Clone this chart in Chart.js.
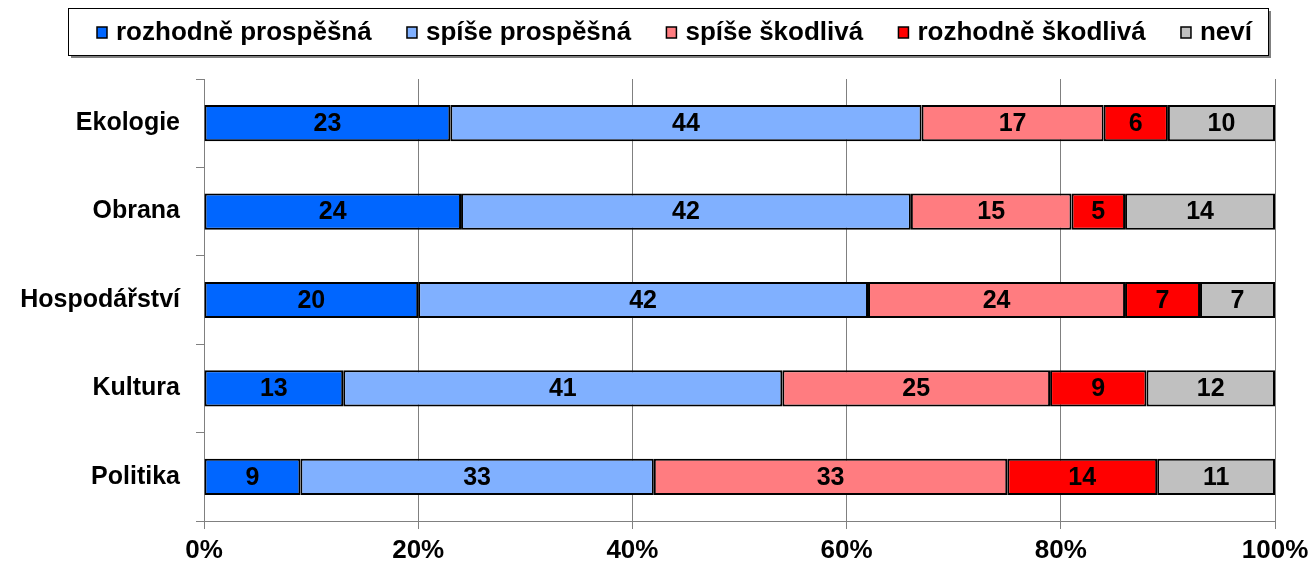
<!DOCTYPE html>
<html>
<head>
<meta charset="utf-8">
<script src="https://cdn.jsdelivr.net/npm/chart.js@4.4.0/dist/chart.umd.min.js"></script>
<style>
  html, body { margin: 0; padding: 0; background: #fff; }
</style>
</head>
<body>
<canvas id="graf" width="1309" height="562"></canvas>
<script>
// data (percent)
const kategorie = ['Ekologie', 'Obrana', 'Hospodářství', 'Kultura', 'Politika'];
const nazvy = ['rozhodně prospěšná', 'spíše prospěšná', 'spíše škodlivá', 'rozhodně škodlivá', 'neví'];
const rozhodneProspesna = [23, 24, 20, 13, 9];
const spiseProspesna = [44, 42, 42, 41, 33];
const spiseSkodliva = [17, 15, 24, 25, 33];
const rozhodneSkodliva = [6, 5, 7, 9, 14];
const nevi = [10, 14, 7, 12, 11];
const xTicks = [0, 20, 40, 60, 80, 100];

const barvy = ['#0066FF', '#80B0FF', '#FF7C80', '#FF0000', '#C0C0C0'];
const hodnoty = [rozhodneProspesna, spiseProspesna, spiseSkodliva, rozhodneSkodliva, nevi];

Chart.defaults.font.family = '"Liberation Sans", Arial, sans-serif';
Chart.defaults.color = '#000';

// numbers inside the bars
const popisky = {
  id: 'popisky',
  afterDatasetsDraw(chart) {
    let ctx = chart.ctx;
    ctx.save();
    ctx.font = 'bold 25px "Liberation Sans", Arial, sans-serif';
    ctx.fillStyle = '#000';
    ctx.textAlign = 'center';
    ctx.textBaseline = 'middle';
    chart.data.datasets.forEach((ds, i) => {
      chart.getDatasetMeta(i).data.forEach((bar, j) => {
        ctx.fillText(ds.data[j], (bar.x + bar.base) / 2, bar.y + 1);
      });
    });
    ctx.restore();
  }
};

// legend in a framed box on top
const legenda = {
  id: 'legenda',
  afterDraw(chart) {
    let ctx = chart.ctx;
    let bx = 68, by = 8, bw = 1200, bh = 47;
    ctx.save();
    ctx.fillStyle = '#808080';
    ctx.fillRect(bx + 3, by + 3, bw, bh);
    ctx.fillStyle = '#fff';
    ctx.fillRect(bx, by, bw, bh);
    ctx.strokeStyle = '#000';
    ctx.lineWidth = 1;
    ctx.strokeRect(bx + 0.5, by + 0.5, bw, bh);

    ctx.font = 'bold 26px "Liberation Sans", Arial, sans-serif';
    ctx.textBaseline = 'middle';
    let box = 10, mezera = 9;
    let sirky = chart.data.datasets.map(ds => box + mezera + ctx.measureText(ds.label).width);
    let celkem = sirky.reduce((a, b) => a + b, 0);
    let start = 97, konec = 1252;
    let gap = (konec - start - celkem) / (sirky.length - 1);
    let x = start;
    chart.data.datasets.forEach((ds, i) => {
      ctx.fillStyle = ds.backgroundColor;
      ctx.fillRect(x, 27, box, 11);
      ctx.lineWidth = 1.5;
      ctx.strokeStyle = '#000';
      ctx.strokeRect(x, 27, box, 11);
      ctx.fillStyle = '#000';
      ctx.fillText(ds.label, x + box + mezera, 33);
      x += sirky[i] + gap;
    });
    ctx.restore();
  }
};

let ctx = document.getElementById('graf').getContext('2d');
let graf = new Chart(ctx, {
  type: 'bar',
  data: {
    labels: kategorie,
    datasets: nazvy.map((n, i) => ({
      label: n,
      data: hodnoty[i],
      backgroundColor: barvy[i],
      borderColor: '#000',
      borderWidth: 2,
      borderSkipped: false,
      categoryPercentage: 0.41,
      barPercentage: 1
    }))
  },
  options: {
    indexAxis: 'y',
    responsive: false,
    animation: false,
    layout: { padding: { top: 79, right: 34, left: 0, bottom: 0 } },
    plugins: {
      legend: { display: false },
      tooltip: { enabled: false }
    },
    scales: {
      x: {
        stacked: true,
        min: 0,
        max: 100,
        afterBuildTicks(scale) {
          scale.ticks = xTicks.map(v => ({ value: v }));
        },
        afterFit(scale) {
          scale.height = 41;
          scale.paddingLeft = 0;
          scale.paddingRight = 0;
        },
        ticks: {
          callback: v => v + '%',
          font: { size: 26, weight: 'bold', lineHeight: 1 },
          color: '#000',
          padding: 9,
          maxRotation: 0
        },
        grid: { color: '#808080', lineWidth: 1, tickLength: 8 },
        border: { color: '#808080', width: 1 }
      },
      y: {
        stacked: true,
        afterFit(scale) { scale.width = 204; },
        ticks: {
          font: { size: 25, weight: 'bold' },
          color: '#000',
          padding: 16
        },
        grid: { offset: true, drawOnChartArea: false, color: '#808080', tickLength: 8 },
        border: { color: '#808080', width: 1 }
      }
    }
  },
  plugins: [popisky, legenda]
});
</script>
</body>
</html>
